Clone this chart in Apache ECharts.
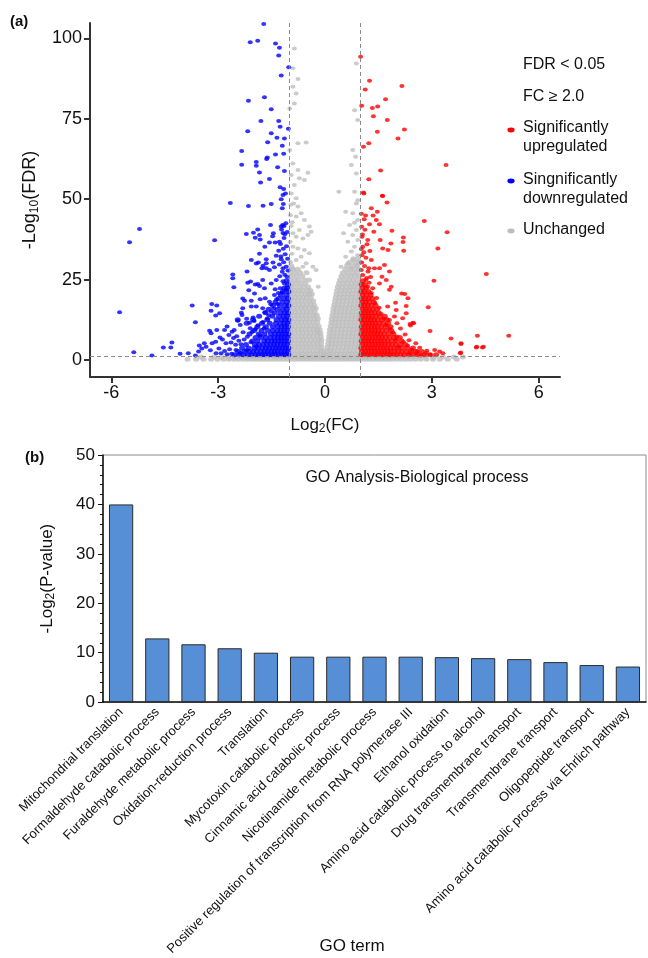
<!DOCTYPE html>
<html>
<head>
<meta charset="utf-8">
<script src="https://cdn.jsdelivr.net/npm/echarts@6/dist/echarts.min.js"></script>
<style>
html,body{margin:0;padding:0;background:#fff}
#chart{width:648px;height:958px}
</style>
</head>
<body>
<div id="chart"></div>
<script>
// ---- panel (a): volcano plot ----
var fcTicks = [-6, -3, 0, 3, 6];
var fdrTicks = [0, 25, 50, 75, 100];
var fcCutoffs = [-1, 1];
var fdrCutoff = [1.3];

// significantly downregulated, scattered points
var downPoints = [
  [-1.72,104.5],[-2.10,98.8],[-1.89,99.3],[-1.39,98.4],[-1.28,97.1],[-1.30,94.7],[-1.02,91.0],[-1.23,88.5],
  [-2.15,80.6],[-1.70,81.7],[-1.51,78.0],[-1.80,74.3],[-1.30,74.3],[-1.26,72.5],[-1.03,71.9],[-2.17,71.1],
  [-1.51,70.5],[-1.35,69.1],[-1.14,68.9],[-1.61,67.7],[-1.20,66.6],[-2.34,65.0],[-1.62,63.0],[-1.64,62.5],
  [-1.39,63.9],[-1.16,64.1],[-2.34,60.7],[-1.93,61.6],[-1.93,60.4],[-1.33,59.9],[-1.14,58.8],[-1.84,58.3],
  [-1.56,56.3],[-1.81,55.2],[-1.16,53.2],[-1.11,51.8],[-1.23,50.0],[-1.17,48.5],[-1.20,47.2],[-2.66,48.8],
  [-2.15,47.9],[-1.74,48.0],[-1.51,48.5],[-1.26,53.7],[-1.18,51.3],
  [-5.21,40.7],[-5.49,36.6],[-3.10,37.2],[-5.77,14.8],[-5.37,2.4],[-4.86,1.4],[-4.54,3.9],[-4.30,5.4],
  [-4.33,3.9],[-4.07,1.9],[-3.84,2.1],[-3.64,1.4],[-3.73,16.9],[-3.64,11.7],[-3.18,17.4],[-3.04,16.9],
  [-3.20,15.3],[-3.07,13.8],[-2.96,14.5],[-3.53,4.5],[-3.39,5.2],[-3.46,3.6],[-3.34,4.1],[-3.24,9.1],
  [-3.20,8.3],[-3.17,5.2],[-3.07,5.7],[-3.04,9.3],[-2.82,9.3],[-2.98,3.6],[-3.06,2.1],[-2.92,2.1],
  [-2.82,2.8],[-2.75,10.4],[-2.70,7.8],[-2.61,8.8],[-2.55,9.3],[-2.78,5.2],[-2.64,5.4],[-2.51,4.7],
  [-2.59,26.6],[-2.59,25.4],[-2.56,22.6],[-2.31,19.1],[-2.26,18.4],[-2.07,18.4],[-2.31,16.1],[-2.35,14.7],
  [-2.33,14.0],[-2.21,39.2],[-2.01,39.6],[-1.96,38.0],[-1.84,38.9],[-1.82,37.5],[-1.89,40.6],[-1.53,42.0],
  [-1.45,39.4],[-1.47,38.5],[-1.23,41.5],[-1.19,42.0],[-1.15,41.7],[-1.18,39.5],[-1.13,39.1],[-1.40,36.5],
  [-1.56,36.5],[-1.69,35.2],[-1.28,36.8],[-1.30,34.0],[-2.07,31.1],[-1.87,30.3],[-1.77,28.5],[-1.65,30.1],
  [-1.56,28.0],[-1.42,28.8],[-1.23,31.3],[-1.18,28.5],[-1.07,25.9],[-2.19,27.5],[-2.09,24.4],[-1.89,23.6],
  [-1.75,24.9],[-1.70,22.3],[-1.51,23.8],[-1.37,24.9],[-1.26,22.3],[-1.14,23.8],[-1.09,21.8],[-1.98,20.7],
  [-1.82,18.9],[-1.68,19.2],[-1.56,18.1],[-1.42,20.2],[-1.33,17.4],[-1.93,16.6],[-2.07,16.6],[-1.75,16.1],
  [-1.51,15.0],[-1.10,42.5],[-1.22,40.6],[-1.06,39.8],[-1.15,37.9],[-1.25,36.1],[-1.08,35.4],[-1.17,34.6],
  [-1.12,32.9],[-1.24,32.2],[-1.05,31.5],[-1.16,30.4],[-1.28,29.7],[-1.09,29.0],[-1.20,27.4],[-1.04,27.8],
  [-1.13,26.5],[-1.27,26.0],[-1.84,33.0],[-1.93,30.0],[-1.65,31.3],[-1.74,29.3],[-1.46,30.3],[-1.65,28.5],
  [-1.37,32.4],[-2.17,24.0],[-1.96,23.5],[-1.84,23.0],[-2.14,21.7],[-2.45,12.2],[-2.20,12.8],[-2.38,10.9],
  [-2.02,13.2],[-2.12,11.6],[-2.48,7.4],[-2.30,8.6],[-2.68,3.3],[-2.75,1.8],[-3.22,3.0],[-3.55,2.6],
  [-1.62,12.9],[-1.74,11.8],[-1.88,10.8],[-1.71,9.9],[-1.95,9.6],[-2.05,8.7],[-1.83,7.6],[-2.18,7.2],
  [-2.27,6.4],[-2.08,5.5],[-2.36,4.9],[-2.50,3.1],[-2.38,2.2],[-2.62,1.9],[-2.20,3.0],[-1.92,4.2],
  [-2.10,9.9],[-1.99,12.1],[-1.58,13.9],[-1.69,14.8],[-1.44,16.0],[-1.36,18.9],[-1.52,17.3],[-1.20,21.0],
  [-1.31,20.8],[-1.40,22.0],[-1.18,24.5],[-2.42,6.0],[-2.57,6.8],[-2.88,6.4],[-2.95,7.0]
];
// downregulated dense core: [FDR level, FC values]
var downRows = [
  [1.6, [-1.03,-1.12,-1.21,-1.30,-1.40,-1.49,-1.58,-1.68,-1.77,-1.86,-1.95,-2.06,-2.17,-2.29,-2.41,-2.55]],
  [2.6, [-1.05,-1.14,-1.23,-1.33,-1.42,-1.51,-1.61,-1.70,-1.80,-1.91,-2.02,-2.13,-2.27,-2.44]],
  [3.7, [-1.03,-1.11,-1.20,-1.29,-1.38,-1.47,-1.57,-1.66,-1.76,-1.88,-1.99,-2.15,-2.33]],
  [4.8, [-1.06,-1.15,-1.24,-1.34,-1.43,-1.53,-1.63,-1.74,-1.85,-1.97,-2.22]],
  [5.9, [-1.04,-1.13,-1.22,-1.31,-1.41,-1.50,-1.61,-1.71,-1.89,-2.04]],
  [7.0, [-1.05,-1.14,-1.23,-1.32,-1.42,-1.53,-1.66,-1.80,-1.95]],
  [8.1, [-1.03,-1.12,-1.21,-1.30,-1.40,-1.52,-1.70,-1.86,-2.12]],
  [9.2, [-1.06,-1.15,-1.24,-1.34,-1.46,-1.60,-1.78,-1.99]],
  [10.3, [-1.04,-1.13,-1.22,-1.33,-1.47,-1.66,-1.90]],
  [11.4, [-1.05,-1.14,-1.25,-1.38,-1.55,-1.77,-2.20]],
  [12.5, [-1.03,-1.12,-1.22,-1.36,-1.62,-2.02,-2.45]],
  [13.6, [-1.06,-1.16,-1.29,-1.48,-1.85]],
  [14.7, [-1.04,-1.13,-1.25,-1.41,-1.67]],
  [15.8, [-1.07,-1.18,-1.33,-1.58]],
  [16.9, [-1.03,-1.12,-1.27,-1.46]],
  [18.0, [-1.06,-1.20,-1.39]],
  [19.1, [-1.04,-1.15,-1.30]],
  [20.2, [-1.08,-1.24]],
  [21.3, [-1.03,-1.18]],
  [22.4, [-1.06,-1.14]],
  [23.5, [-1.04]],
  [24.6, [-1.08]]
];

// significantly upregulated, scattered points
var upPoints = [
  [1.00,94.3],[1.25,86.8],[1.13,84.1],[2.16,85.2],[1.70,81.1],[1.03,79.1],[1.33,78.4],[1.48,78.8],
  [1.36,75.8],[1.75,74.6],[1.47,71.0],[2.23,71.7],[2.05,68.9],[1.23,67.4],[1.08,66.3],[3.40,60.6],
  [1.56,58.9],[1.23,56.2],[1.09,51.8],[1.62,51.0],[1.74,49.0],[2.79,43.2],[3.43,39.7],[3.17,34.7],
  [4.53,26.7],[3.06,24.6],[2.90,16.4],[5.16,7.5],[4.28,7.5],[4.42,3.9],[4.25,3.9],[3.82,5.2],
  [3.81,2.3],[3.54,6.7],[2.95,9.0],[2.47,11.6],[2.39,11.2],[2.15,20.7],[2.24,20.5],[2.33,19.2],
  [2.28,16.8],[1.08,52.1],[1.61,51.1],[1.30,47.2],[1.47,46.1],[1.14,44.9],[1.35,44.9],[1.44,43.5],
  [1.25,42.2],[1.53,42.2],[1.37,39.9],[1.88,40.2],[2.20,38.1],[2.19,36.7],[2.21,34.0],[1.85,36.2],
  [1.55,37.3],[1.62,34.7],[1.77,34.2],[1.20,37.3],[1.04,38.3],[1.06,35.2],[1.04,32.6],[1.30,31.1],
  [1.23,28.5],[1.39,28.5],[1.53,28.5],[1.67,29.5],[1.81,27.5],[1.60,25.9],[1.72,24.9],[1.86,22.8],
  [1.81,21.8],[1.53,23.8],[1.34,22.3],[1.15,24.9],[1.06,26.4],[2.28,14.5],[2.00,15.5],[1.95,13.5],
  [1.76,16.6],[1.81,12.4],[2.02,11.4],[2.49,11.4],[2.40,10.7],[3.82,5.0],[4.26,4.1],[4.45,4.1],
  [3.80,2.1],[3.22,2.6],[3.31,2.1],[3.08,3.1],[2.86,2.9],[2.70,1.4],[2.95,1.6],[2.56,2.1],[2.38,2.1],
  [1.02,45.5],[1.10,43.8],[1.03,41.4],[1.12,40.5],[1.05,39.0],[1.18,36.0],[1.02,34.5],[1.09,33.5],
  [1.15,31.8],[1.03,30.3],[1.11,29.2],[1.21,27.5],[1.02,28.0],[1.26,33.9],[1.17,25.5],[1.28,25.8],
  [2.12,9.8],[2.25,7.9],[2.36,6.1],[2.55,5.2],[2.66,3.8],[2.18,13.0],[1.98,17.8],
  [1.58,14.3],[1.66,12.9],[1.72,10.9],[1.82,9.7],[1.90,8.6],[2.02,7.3],[2.20,5.6],[2.32,4.4],
  [2.44,3.2],[2.60,2.7],[2.84,2.2],[1.52,16.2],[1.40,17.6],[1.30,20.8],[1.20,22.8],[1.24,24.0],
  [1.45,19.3],[1.98,6.4],[2.07,4.1]
];
// upregulated dense core: [FDR level, FC values]
var upRows = [
  [1.6, [1.02,1.11,1.20,1.29,1.38,1.47,1.56,1.65,1.74,1.83,1.92,2.02,2.12,2.23,2.35,2.48,2.62,2.78,2.95,3.12]],
  [2.6, [1.04,1.13,1.22,1.31,1.40,1.49,1.58,1.67,1.76,1.85,1.95,2.05,2.16,2.28,2.41,2.56,2.72]],
  [3.7, [1.02,1.11,1.20,1.29,1.38,1.47,1.56,1.65,1.74,1.84,1.94,2.05,2.17,2.31,2.47]],
  [4.8, [1.05,1.14,1.23,1.32,1.41,1.50,1.59,1.68,1.78,1.88,1.99,2.12,2.26]],
  [5.9, [1.03,1.12,1.21,1.30,1.39,1.48,1.57,1.66,1.76,1.87,2.00,2.15]],
  [7.0, [1.06,1.15,1.24,1.33,1.42,1.51,1.60,1.70,1.81,1.94,2.10]],
  [8.1, [1.02,1.11,1.20,1.29,1.38,1.47,1.56,1.66,1.78,1.92]],
  [9.2, [1.05,1.14,1.23,1.32,1.41,1.50,1.60,1.72,1.86]],
  [10.3, [1.03,1.12,1.21,1.30,1.39,1.48,1.58,1.70,1.84]],
  [11.4, [1.06,1.15,1.24,1.33,1.42,1.52,1.63,1.77]],
  [12.5, [1.02,1.11,1.20,1.29,1.38,1.48,1.60,1.74]],
  [13.6, [1.05,1.14,1.23,1.32,1.42,1.54,1.68]],
  [14.7, [1.03,1.12,1.21,1.30,1.40,1.51]],
  [15.8, [1.06,1.15,1.24,1.34,1.46]],
  [16.9, [1.02,1.11,1.20,1.30,1.42]],
  [18.0, [1.05,1.14,1.24,1.37]],
  [19.1, [1.03,1.12,1.22,1.33]],
  [20.2, [1.06,1.16,1.28]],
  [21.3, [1.02,1.11,1.22]],
  [22.4, [1.05,1.15]],
  [23.5, [1.03,1.12]],
  [24.6, [1.06]]
];

// unchanged, scattered points
var unchangedPoints = [
  [-0.86,96.9],[-0.90,90.7],[-0.76,87.4],[-0.90,85.0],[-0.81,82.9],[-0.86,79.8],[-0.99,78.2],[-0.76,67.4],
  [-0.53,67.6],[-0.99,65.3],[-0.90,61.1],[-0.76,59.1],[-0.48,58.2],[-0.95,57.5],[-0.86,54.4],[-0.72,56.5],
  [-0.58,56.0],[-0.95,51.8],[-0.81,50.3],[-0.88,48.7],[-0.76,47.7],[-0.67,45.6],[-0.81,44.6],[-0.58,43.5],
  [-0.44,41.5],[-0.72,40.4],[-0.90,39.4],[-0.81,38.3],[-0.62,37.8],[-0.48,38.9],[-0.39,39.9],[-0.90,35.2],
  [-0.76,34.7],[-0.58,34.2],[-0.44,33.2],[-0.67,32.1],[-0.81,31.1],[-0.53,30.1],[-0.34,29.0],[-0.62,29.0],
  [-0.90,28.5],[-0.25,28.0],[-0.19,22.8],[-0.97,45.0],[-0.95,41.7],[-0.98,36.8],[-0.93,33.0],[-0.97,30.5],
  [-0.92,42.8],[-0.96,48.3],
  [0.88,92.2],[0.83,77.7],[0.92,74.6],[0.78,65.3],[0.86,63.2],[0.74,60.6],[0.88,58.0],[0.39,52.3],
  [0.83,52.3],[0.92,49.7],[0.88,48.7],[0.58,46.1],[0.78,45.6],[0.92,43.5],[0.83,42.7],[0.69,42.0],
  [0.88,40.4],[0.52,39.4],[0.78,38.9],[0.92,37.3],[0.64,36.8],[0.83,35.2],[0.74,33.7],[0.92,32.6],
  [0.58,32.1],[0.78,31.1],[0.64,30.1],[0.89,29.5],[0.45,29.0],[0.74,28.5]
];
// unchanged dense cloud: [FDR level, FC values]
var unchangedRows = [
  [0.2, [-3.86,-3.62,-3.41,-3.20,-3.02,-2.85,-2.70,-2.56,-2.43,-2.30,-2.18,-2.06,-1.95,-1.84,-1.73,-1.62,-1.51,-1.40,-1.29,-1.18,-1.07,-0.96,-0.85,-0.74,-0.63,-0.52,-0.41,-0.30,-0.19,-0.08,0.03,0.14,0.25,0.36,0.47,0.58,0.69,0.80,0.91,1.02,1.13,1.24,1.35,1.46,1.57,1.68,1.79,1.90,2.02,2.14,2.27,2.40,2.54,2.69,2.85,3.03,3.22,3.45,3.70]],
  [0.9, [-3.48,-3.12,-2.90,-2.71,-2.52,-2.36,-2.21,-2.08,-1.96,-1.85,-1.74,-1.63,-1.52,-1.41,-1.30,-1.19,-1.08,-0.97,-0.86,-0.75,-0.64,-0.53,-0.42,-0.31,-0.20,-0.09,0.02,0.13,0.24,0.35,0.46,0.57,0.68,0.79,0.90,1.01,1.12,1.23,1.34,1.45,1.56,1.67,1.78,1.90,2.03,2.17,2.31,2.47,2.64,2.83,3.05,3.31,3.62,3.87]],
  [1.8, [-0.97,-0.86,-0.75,-0.64,-0.53,-0.42,-0.31,-0.20,-0.10,-0.03,0.04,0.12,0.22,0.33,0.44,0.55,0.66,0.77,0.88,0.97]],
  [2.9, [-0.99,-0.88,-0.77,-0.66,-0.55,-0.44,-0.33,-0.22,-0.12,-0.05,0.06,0.15,0.25,0.36,0.47,0.58,0.69,0.80,0.91]],
  [4.0, [-0.96,-0.85,-0.74,-0.63,-0.52,-0.41,-0.30,-0.19,-0.10,0.07,0.17,0.28,0.39,0.50,0.61,0.72,0.83,0.94]],
  [5.1, [-0.98,-0.87,-0.76,-0.65,-0.54,-0.43,-0.32,-0.21,-0.11,0.09,0.19,0.30,0.41,0.52,0.63,0.74,0.85,0.96]],
  [6.2, [-0.95,-0.84,-0.73,-0.62,-0.51,-0.40,-0.29,-0.18,-0.10,0.10,0.20,0.31,0.42,0.53,0.64,0.75,0.86,0.97]],
  [7.3, [-0.99,-0.88,-0.77,-0.66,-0.55,-0.44,-0.33,-0.22,-0.12,0.12,0.22,0.33,0.44,0.55,0.66,0.77,0.88,0.98]],
  [8.4, [-0.96,-0.85,-0.74,-0.63,-0.52,-0.41,-0.30,-0.20,-0.13,0.13,0.23,0.34,0.45,0.56,0.67,0.78,0.89]],
  [9.5, [-0.98,-0.87,-0.76,-0.65,-0.54,-0.43,-0.32,-0.22,-0.15,0.14,0.25,0.36,0.47,0.58,0.69,0.80,0.91,0.99]],
  [10.6, [-0.95,-0.84,-0.73,-0.62,-0.51,-0.40,-0.29,-0.18,0.16,0.27,0.38,0.49,0.60,0.71,0.82,0.93]],
  [11.7, [-0.99,-0.88,-0.77,-0.66,-0.55,-0.44,-0.33,-0.22,0.18,0.28,0.39,0.50,0.61,0.72,0.83,0.94]],
  [12.8, [-0.96,-0.85,-0.74,-0.63,-0.52,-0.41,-0.30,-0.20,0.19,0.30,0.41,0.52,0.63,0.74,0.85,0.96]],
  [13.9, [-0.98,-0.87,-0.76,-0.65,-0.54,-0.43,-0.32,-0.23,0.21,0.32,0.43,0.54,0.65,0.76,0.87,0.98]],
  [15.0, [-0.95,-0.84,-0.73,-0.62,-0.51,-0.40,-0.29,0.23,0.33,0.44,0.55,0.66,0.77,0.88]],
  [16.1, [-0.99,-0.88,-0.77,-0.66,-0.55,-0.44,-0.33,-0.26,0.24,0.35,0.46,0.57,0.68,0.79,0.90,0.99]],
  [17.2, [-0.96,-0.85,-0.74,-0.63,-0.52,-0.41,-0.31,0.26,0.37,0.48,0.59,0.70,0.81,0.92]],
  [18.3, [-0.98,-0.87,-0.76,-0.65,-0.54,-0.43,-0.33,0.28,0.39,0.50,0.61,0.72,0.83,0.94]],
  [19.4, [-0.95,-0.84,-0.73,-0.62,-0.51,-0.40,0.30,0.41,0.52,0.63,0.74,0.85,0.96]],
  [20.5, [-0.99,-0.88,-0.77,-0.66,-0.55,-0.45,-0.37,0.32,0.43,0.54,0.65,0.76,0.87,0.97]],
  [21.6, [-0.96,-0.85,-0.74,-0.63,-0.50,-0.41,0.34,0.46,0.57,0.68,0.79,0.90]],
  [22.7, [-0.98,-0.87,-0.72,-0.60,-0.47,0.36,0.48,0.60,0.71,0.82,0.93]],
  [23.8, [-0.95,-0.82,-0.69,-0.55,0.39,0.51,0.63,0.75,0.86,0.97]],
  [24.9, [-0.99,-0.86,-0.74,-0.58,-0.45,0.42,0.55,0.68,0.80,0.92]],
  [26.0, [-0.93,-0.79,-0.64,0.46,0.60,0.73,0.85,0.96]],
  [27.1, [-0.97,-0.84,-0.70,-0.52,0.50,0.64,0.78,0.90]],
  [28.2, [-0.90,-0.76,0.57,0.71,0.84,0.95]],
  [29.3, [-0.95,0.62,0.77,0.90]],
  [30.4, [0.70,0.86,0.97]],
  [31.5, [0.80,0.93]]
];

// ---- panel (b): GO enrichment ----
var goTerms = [
  'Mitochondrial translation',
  'Formaldehyde catabolic process',
  'Furaldehyde metabolic process',
  'Oxidation-reduction process',
  'Translation',
  'Mycotoxin catabolic process',
  'Cinnamic acid catabolic process',
  'Nicotinamide metabolic process',
  'Positive regulation of transcription from RNA polymerase III',
  'Ethanol oxidation',
  'Amino acid catabolic process to alcohol',
  'Drug transmembrane transport',
  'Transmembrane transport',
  'Oligopeptide transport',
  'Amino acid catabolic process via Ehrlich pathway'
];
var goScores = [40, 12.9, 11.7, 10.9, 10.0, 9.2, 9.2, 9.2, 9.2, 9.1, 8.9, 8.7, 8.1, 7.5, 7.2];

var FONT = '"Liberation Sans", Arial, sans-serif';

function fromRows(rows) {
  var out = [];
  rows.forEach(function (r) {
    r[1].forEach(function (x) { out.push([x, r[0]]); });
  });
  return out;
}

// dense cloud points get drawn a touch bigger so the core reads solid
function sizer(nScattered) {
  return function (val, params) {
    return params.dataIndex < nScattered ? [5, 4] : [6, 5];
  };
}

var chart = echarts.init(document.getElementById('chart'));

var subRich = { sub: { fontSize: 12, verticalAlign: 'bottom', lineHeight: 10 } };

var option = {
  animation: false,
  textStyle: { fontFamily: FONT },
  grid: [
    { left: 90, right: 88, top: 23, height: 354 },
    { left: 103, right: 2, top: 455, height: 249, show: true, borderColor: '#8c8c8c', borderWidth: 1 }
  ],
  xAxis: [
    {
      type: 'value', gridIndex: 0, min: -6.6, max: 6.6,
      splitLine: { show: false },
      axisLine: { onZero: false, lineStyle: { color: '#333', width: 2 } },
      axisTick: { customValues: fcTicks, length: 6, lineStyle: { color: '#333', width: 2 } },
      axisLabel: { customValues: fcTicks, fontSize: 18, color: '#111', margin: 7 },
      name: 'Log{sub|2}(FC)', nameLocation: 'middle', nameGap: 38,
      nameTextStyle: { fontSize: 17, color: '#111', lineHeight: 20, rich: subRich }
    },
    {
      type: 'category', gridIndex: 1, data: goTerms,
      axisLine: { lineStyle: { color: '#111', width: 1.5 } },
      axisTick: { length: 4, lineStyle: { color: '#111' } },
      axisLabel: { interval: 0, rotate: 45, fontSize: 13, color: '#111', margin: 8 }
    }
  ],
  yAxis: [
    {
      type: 'value', gridIndex: 0, min: -5.3, max: 104.8,
      splitLine: { show: false },
      axisLine: { show: true, onZero: false, lineStyle: { color: '#333', width: 2 } },
      axisTick: { show: true, customValues: fdrTicks, length: 6, lineStyle: { color: '#333', width: 2 } },
      axisLabel: { customValues: fdrTicks, fontSize: 18, color: '#111', margin: 8 },
      name: '-Log{sub|10}(FDR)', nameLocation: 'middle', nameGap: 43, nameRotate: 90,
      nameTextStyle: { fontSize: 18, color: '#111', lineHeight: 22, rich: subRich }
    },
    {
      type: 'value', gridIndex: 1, min: 0, max: 50, interval: 10,
      splitLine: { show: false },
      axisLine: { show: true, lineStyle: { color: '#111', width: 1.5 } },
      axisTick: { show: true, length: 5, lineStyle: { color: '#111' } },
      minorTick: { show: true, splitNumber: 5, length: 3, lineStyle: { color: '#111' } },
      axisLabel: { fontSize: 17, color: '#111', margin: 8 },
      name: '-Log{sub|2}(P-value)', nameLocation: 'middle', nameGap: 46, nameRotate: 90,
      nameTextStyle: { fontSize: 17, color: '#111', lineHeight: 20, rich: subRich }
    }
  ],
  series: [
    {
      name: 'Unchanged', type: 'scatter', xAxisIndex: 0, yAxisIndex: 0,
      data: unchangedPoints.concat(fromRows(unchangedRows)),
      symbol: 'circle', symbolSize: sizer(unchangedPoints.length), itemStyle: { color: '#bebebe' }, silent: true
    },
    {
      name: 'Significantly upregulated', type: 'scatter', xAxisIndex: 0, yAxisIndex: 0,
      data: upPoints.concat(fromRows(upRows)),
      symbol: 'circle', symbolSize: sizer(upPoints.length), itemStyle: { color: '#ff0000' }, silent: true
    },
    {
      name: 'Singnificantly downregulated', type: 'scatter', xAxisIndex: 0, yAxisIndex: 0,
      data: downPoints.concat(fromRows(downRows)),
      symbol: 'circle', symbolSize: sizer(downPoints.length), itemStyle: { color: '#0000ff' }, silent: true
    },
    {
      type: 'line', xAxisIndex: 0, yAxisIndex: 0, data: [], z: 10,
      markLine: {
        silent: true, symbol: 'none', label: { show: false },
        lineStyle: { type: [4, 3], color: '#8a8a8a', width: 1 },
        data: fcCutoffs.map(function (v) { return { xAxis: v }; })
          .concat(fdrCutoff.map(function (v) { return { yAxis: v }; }))
      }
    },
    {
      name: 'GO', type: 'bar', xAxisIndex: 1, yAxisIndex: 1, data: goScores,
      barCategoryGap: '33%',
      itemStyle: { color: '#568fd6', borderColor: '#2a2a2a', borderWidth: 1 }
    }
  ],
  graphic: [
    { type: 'text', x: 10, y: 22, style: { text: '(a)', fontSize: 15, fontWeight: 'bold', fontFamily: FONT, fill: '#111', verticalAlign: 'middle' } },
    { type: 'text', x: 25, y: 458, style: { text: '(b)', fontSize: 15, fontWeight: 'bold', fontFamily: FONT, fill: '#111', verticalAlign: 'middle' } },
    { type: 'text', x: 523, y: 65, style: { text: 'FDR < 0.05', fontSize: 16, fontFamily: FONT, fill: '#111', verticalAlign: 'middle' } },
    { type: 'text', x: 523, y: 97, style: { text: 'FC \u2265 2.0', fontSize: 16, fontFamily: FONT, fill: '#111', verticalAlign: 'middle' } },
    { type: 'circle', x: 511, y: 130, scaleX: 1.2, scaleY: 0.8, shape: { cx: 0, cy: 0, r: 3 }, style: { fill: '#ff0000' } },
    { type: 'text', x: 523, y: 128, style: { text: 'Significantly', fontSize: 16, fontFamily: FONT, fill: '#111', verticalAlign: 'middle' } },
    { type: 'text', x: 523, y: 147, style: { text: 'upregulated', fontSize: 16, fontFamily: FONT, fill: '#111', verticalAlign: 'middle' } },
    { type: 'circle', x: 511, y: 181, scaleX: 1.2, scaleY: 0.8, shape: { cx: 0, cy: 0, r: 3 }, style: { fill: '#0000ff' } },
    { type: 'text', x: 523, y: 180, style: { text: 'Singnificantly', fontSize: 16, fontFamily: FONT, fill: '#111', verticalAlign: 'middle' } },
    { type: 'text', x: 523, y: 199, style: { text: 'downregulated', fontSize: 16, fontFamily: FONT, fill: '#111', verticalAlign: 'middle' } },
    { type: 'circle', x: 511, y: 231, scaleX: 1.2, scaleY: 0.8, shape: { cx: 0, cy: 0, r: 3 }, style: { fill: '#bebebe' } },
    { type: 'text', x: 523, y: 230, style: { text: 'Unchanged', fontSize: 16, fontFamily: FONT, fill: '#111', verticalAlign: 'middle' } },
    { type: 'text', x: 417, y: 478, style: { text: 'GO Analysis-Biological process', fontSize: 16, fontFamily: FONT, fill: '#111', align: 'center', verticalAlign: 'middle' } },
    { type: 'text', x: 352, y: 946, style: { text: 'GO term', fontSize: 17, fontFamily: FONT, fill: '#111', align: 'center', verticalAlign: 'middle' } }
  ]
};

chart.setOption(option);
</script>
</body>
</html>
